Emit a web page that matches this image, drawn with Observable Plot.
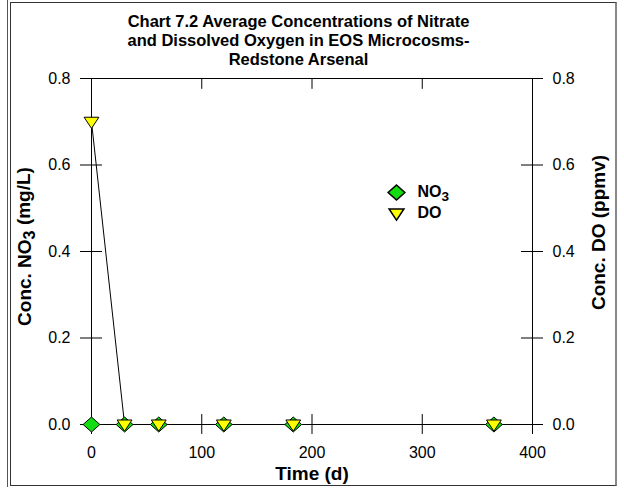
<!DOCTYPE html>
<html><head><meta charset="utf-8">
<script src="https://cdn.jsdelivr.net/npm/d3@7"></script>
<script src="https://cdn.jsdelivr.net/npm/@observablehq/plot@0.6"></script>
<style>
body{margin:0;background:#fff;}
#wrap{position:relative;width:624px;height:489px;overflow:hidden;background:#fff;}
.ln{position:absolute;}
#wrap svg{position:absolute;left:0;top:0;}
</style></head><body>
<div id="wrap">
  <div class="ln" style="left:7px;top:0;width:1px;height:487px;background:#555;"></div>
  <div class="ln" style="left:10px;top:2px;width:607px;height:484px;border:1px solid #333;border-right:2px solid #888;box-sizing:border-box;"></div>
</div>
<script>
const days = [0, 30, 61, 120, 183, 365];
const no3 = [0, 0, 0, 0, 0, 0];
const doVals = [0.70, 0, 0, 0, 0, 0];
const xTicks = [0, 100, 200, 300, 400];
const yTicks = [0, 0.2, 0.4, 0.6, 0.8];
const titleLines = ["Chart 7.2 Average Concentrations of Nitrate", "and Dissolved Oxygen in EOS Microcosms-", "Redstone Arsenal"];
const legendLabels = ["NO3", "DO"];
const xLabel = "Time (d)";
const yLabelLeft = "Conc. NO3 (mg/L)";
const yLabelRight = "Conc. DO (ppmv)";

const no3Data = days.map((d, i) => ({t: d, v: no3[i]}));
const doData = days.map((d, i) => ({t: d, v: doVals[i]}));

const diamondSym = {draw(ctx, size) {
  const r = Math.sqrt(size / Math.PI);
  const w = r * 1.2, h = r * 1.07;
  ctx.moveTo(0, -h); ctx.lineTo(w, 0); ctx.lineTo(0, h); ctx.lineTo(-w, 0); ctx.closePath();
}};
const triDownSym = {draw(ctx, size) {
  const r = Math.sqrt(size / Math.PI);
  ctx.moveTo(-1.4 * r, -0.85 * r); ctx.lineTo(1.4 * r, -0.85 * r); ctx.lineTo(0, 1.25 * r); ctx.closePath();
}};
const green = "#11dd11", yellow = "#ffff00";
const fmt = d3.format(".1f");

const chart = Plot.plot({
  width: 624, height: 489,
  marginLeft: 91, marginRight: 92, marginTop: 78, marginBottom: 65,
  style: {fontFamily: "'Liberation Sans', Arial, sans-serif", fontSize: "16px", background: "transparent", color: "black"},
  x: {domain: [0, 400]},
  y: {domain: [0, 0.8]},
  marks: [
    Plot.ruleY([0.8], {x1: 0, x2: 400, stroke: "black"}),
    Plot.ruleY([0], {x1: 0, x2: 400, stroke: "black"}),
    Plot.ruleX([0], {y1: 0, y2: 0.8, stroke: "black"}),
    Plot.ruleX([400], {y1: 0, y2: 0.8, stroke: "black"}),
    Plot.ruleY(yTicks, {x1: -10, x2: 10, stroke: "black"}),
    Plot.ruleY(yTicks, {x1: 390, x2: 410, stroke: "black"}),
    Plot.ruleX(xTicks, {y1: -0.023, y2: 0.023, stroke: "black"}),
    Plot.ruleX(xTicks, {y1: 0.8, y2: 0.775, stroke: "black"}),
    Plot.axisY(yTicks, {anchor: "left", tickSize: 0, tickPadding: 21, tickFormat: fmt, label: null, fontSize: 16}),
    Plot.axisY(yTicks, {anchor: "right", tickSize: 0, tickPadding: 20, tickFormat: fmt, label: null, fontSize: 16}),
    Plot.axisX(xTicks, {anchor: "bottom", tickSize: 0, tickPadding: 22, label: null, fontSize: 16}),
    Plot.line(no3Data, {x: "t", y: "v", stroke: "black", strokeWidth: 1}),
    Plot.line(doData, {x: "t", y: "v", stroke: "black", strokeWidth: 1}),
    Plot.dot(no3Data, {x: "t", y: "v", symbol: diamondSym, r: 7, fill: green, stroke: "black", strokeWidth: 1}),
    Plot.dot(doData, {x: "t", y: "v", symbol: triDownSym, r: 5.3, fill: yellow, stroke: "black", strokeWidth: 1}),
    Plot.dot([legendLabels[0]], {frameAnchor: "top-left", dx: 305, dy: 114, symbol: diamondSym, r: 7, fill: green, stroke: "black"}),
    Plot.dot([legendLabels[1]], {frameAnchor: "top-left", dx: 305, dy: 135, symbol: triDownSym, r: 5.3, fill: yellow, stroke: "black"}),
    Plot.text([legendLabels[0]], {frameAnchor: "top-left", dx: 326, dy: 113, textAnchor: "start", lineAnchor: "middle", fontWeight: "bold", fontSize: 16}),
    Plot.text([legendLabels[1]], {frameAnchor: "top-left", dx: 326, dy: 134, textAnchor: "start", lineAnchor: "middle", fontWeight: "bold", fontSize: 16}),
    Plot.text([titleLines.join("\n")], {frameAnchor: "top-left", dx: 207, dy: -65, textAnchor: "middle", lineAnchor: "top", fontWeight: "bold", fontSize: 16.5, lineHeight: 1.16}),
    Plot.text([xLabel], {frameAnchor: "bottom", dy: 42, textAnchor: "middle", lineAnchor: "top", fontWeight: "bold", fontSize: 19}),
    Plot.text([yLabelLeft], {frameAnchor: "left", dx: -67, dy: -5, textAnchor: "middle", rotate: -90, lineAnchor: "middle", fontWeight: "bold", fontSize: 19}),
    Plot.text([yLabelRight], {frameAnchor: "right", dx: 66, dy: -19, textAnchor: "middle", rotate: -90, lineAnchor: "middle", fontWeight: "bold", fontSize: 19})
  ]
});

chart.querySelectorAll("text").forEach(t => {
  if (t.textContent === "NO3") {
    t.innerHTML = 'NO<tspan dy="0.3em" font-size="0.85em">3</tspan>';
  } else if (t.textContent === "Conc. NO3 (mg/L)") {
    t.innerHTML = 'Conc. NO<tspan dy="0.3em" font-size="0.85em">3</tspan><tspan dy="-0.3em"> (mg/L)</tspan>';
  }
});
document.getElementById("wrap").appendChild(chart);
</script>
</body></html>
